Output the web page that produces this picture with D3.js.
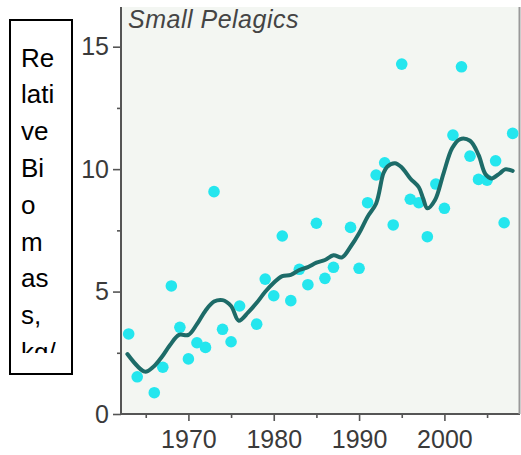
<!DOCTYPE html>
<html>
<head>
<meta charset="utf-8">
<script src="https://cdn.jsdelivr.net/npm/d3@7/dist/d3.min.js"></script>
<style>
  html, body { margin: 0; padding: 0; background: #fff; }
  #wrap { position: relative; width: 521px; height: 455px; overflow: hidden; }
  svg { position: absolute; left: 0; top: 0; }
  #ybox {
    position: absolute; left: 9px; top: 19px; width: 60px; height: 352px;
    border: 2px solid #000; background: #fff;
  }
  #ylab {
    position: absolute; left: 10px; top: 18.6px; width: 35.3px; height: 313.4px;
    overflow: hidden; font-family: "Liberation Sans", Arial, sans-serif;
    font-size: 26px; line-height: 36.8px; color: #000; word-break: break-all;
  }
</style>
</head>
<body>
<div id="wrap">
  <svg id="chart" width="521" height="455"></svg>
  <div id="ybox"><div id="ylab">Relative Biomass, kg/tow</div></div>
</div>
<script>
// Observed yearly values (dots)
const years = [1963,1964,1966,1967,1968,1969,1970,1971,1972,1973,1974,1975,1976,1978,1979,1980,
  1981,1982,1983,1984,1985,1986,1987,1989,1990,1991,1992,1993,1994,1995,1996,1997,1998,1999,
  2000,2001,2002,2003,2004,2005,2006,2007,2008];
const values = [3.27,1.52,0.87,1.91,5.23,3.54,2.25,2.91,2.72,9.08,3.46,2.95,4.41,3.67,5.51,4.83,
  7.27,4.63,5.91,5.28,7.79,5.54,5.99,7.62,5.95,8.63,9.76,10.26,7.72,14.29,8.77,8.63,7.24,9.39,
  8.40,11.39,14.18,10.53,9.58,9.55,10.34,7.81,11.46];
// Smoothed trend line
const smoothYears = [1962.85,1964.9,1965.9,1966.9,1967.85,1968.9,1970,1971,1972,1973,1974,1975,1975.9,
  1977,1978,1979,1980,1981,1982,1983,1984,1985,1986,1987,1988,1989,1990,1991,1992,1992.85,1993.3,
  1994.2,1995,1996,1997,1997.5,1998,1998.9,1999.9,2000.9,2001.8,2003,2004,2004.8,2005.5,2006.5,2007.1,2008];
const smoothValues = [2.45,1.73,1.93,2.34,2.82,3.23,3.23,3.67,4.22,4.59,4.65,4.41,3.81,
  4.15,4.54,4.99,5.36,5.63,5.68,5.88,6.0,6.18,6.29,6.48,6.40,6.83,7.38,8.06,8.60,9.83,10.1,
  10.24,10.07,9.62,9.26,8.81,8.40,8.74,9.83,10.85,11.22,11.16,10.58,9.80,9.62,9.83,9.99,9.93];
const xMajor = [1970,1980,1990,2000];
const xMinor = [1965,1975,1985,1995,2005];
const yMajor = [0,5,10,15];
const yMinor = [2.5,7.5,12.5];
const title = "Small Pelagics";

const svg = d3.select("#chart");
const pLeft = 121, pRight = 520, pTop = 7, pBottom = 414;
const x = d3.scaleLinear().domain([1962.1, 2008.8]).range([pLeft, 519.5]);
const y = d3.scaleLinear().domain([0, 15]).range([pBottom, 46.7]);

// plot background
svg.append("rect").attr("x", pLeft).attr("y", pTop).attr("width", pRight - pLeft).attr("height", pBottom - pTop)
  .attr("fill", "#f3f6f2");

const font = "'Liberation Sans', Arial, sans-serif";

// axes
const gx = svg.append("g").attr("transform", `translate(0,${pBottom})`)
  .call(d3.axisBottom(x).tickValues(xMajor).tickFormat(d3.format("d")).tickSize(7).tickPadding(9.3));
const gxm = svg.append("g").attr("transform", `translate(0,${pBottom})`)
  .call(d3.axisBottom(x).tickValues(xMinor).tickFormat("").tickSize(4));
const gy = svg.append("g").attr("transform", `translate(${pLeft},0)`)
  .call(d3.axisLeft(y).tickValues(yMajor).tickSize(8).tickPadding(4));
const gym = svg.append("g").attr("transform", `translate(${pLeft},0)`)
  .call(d3.axisLeft(y).tickValues(yMinor).tickFormat("").tickSize(4));
[gx, gxm, gy, gym].forEach(g => {
  g.select(".domain").remove();
  g.selectAll("line").attr("stroke", "#555").attr("stroke-width", 1.6);
  g.selectAll("text").attr("fill", "#3a3a3a").style("font-family", font).style("font-size", "25px");
});

// axis lines and right border
svg.append("line").attr("x1", pLeft).attr("x2", pLeft).attr("y1", pTop).attr("y2", pBottom + 1)
  .attr("stroke", "#555").attr("stroke-width", 2);
svg.append("line").attr("x1", pLeft).attr("x2", pRight).attr("y1", pBottom).attr("y2", pBottom)
  .attr("stroke", "#555").attr("stroke-width", 2);
svg.append("line").attr("x1", 519.5).attr("x2", 519.5).attr("y1", pTop).attr("y2", pBottom)
  .attr("stroke", "#999").attr("stroke-width", 2);

// dots
svg.append("g").selectAll("circle").data(years.map((yr, i) => [yr, values[i]])).join("circle")
  .attr("cx", d => x(d[0])).attr("cy", d => y(d[1])).attr("r", 5.8).attr("fill", "#24e6ee");

// smooth line
const line = d3.line().x(d => x(d[0])).y(d => y(d[1])).curve(d3.curveCatmullRom.alpha(0.5));
svg.append("path").datum(smoothYears.map((yr, i) => [yr, smoothValues[i]]))
  .attr("d", line).attr("fill", "none").attr("stroke", "#1d6b68").attr("stroke-width", 4)
  .attr("stroke-linejoin", "round").attr("stroke-linecap", "round");

// title
svg.append("text").attr("x", 128).attr("y", 28).text(title)
  .style("font-family", font).style("font-size", "25px").style("font-style", "italic")
  .style("letter-spacing", "0.5px").attr("fill", "#444");
</script>
</body>
</html>
